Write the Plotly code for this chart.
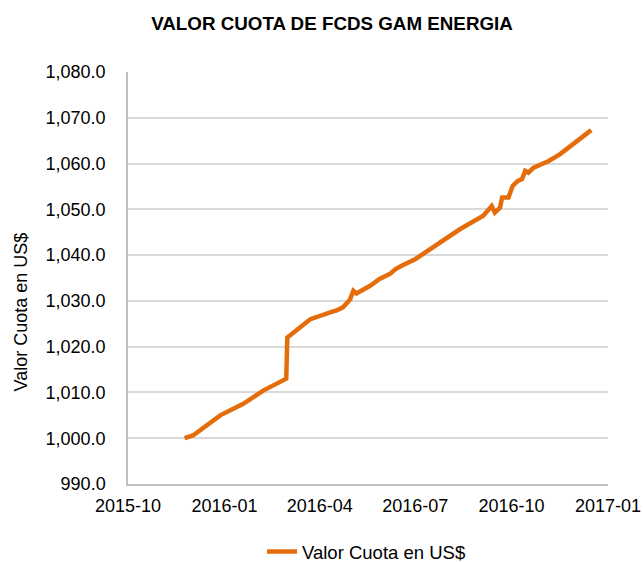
import plotly.graph_objects as go

dates = [
    "2015-11-24", "2015-12-02", "2015-12-28", "2016-01-19", "2016-02-07",
    "2016-02-29", "2016-03-01", "2016-03-05", "2016-03-10", "2016-03-13",
    "2016-03-19", "2016-03-23", "2016-04-01", "2016-04-11", "2016-04-17",
    "2016-04-23", "2016-04-28", "2016-04-30", "2016-05-03", "2016-05-06",
    "2016-05-19", "2016-05-28", "2016-06-07", "2016-06-12", "2016-06-19",
    "2016-07-01", "2016-08-13", "2016-08-25", "2016-09-04", "2016-09-12",
    "2016-09-15", "2016-09-20", "2016-09-22", "2016-09-28", "2016-10-02",
    "2016-10-07", "2016-10-11", "2016-10-14", "2016-10-17", "2016-10-22",
    "2016-11-01", "2016-11-05", "2016-11-16", "2016-12-05", "2016-12-16",
]
valor_cuota = [
    1000.0, 1000.6, 1005.0, 1007.5, 1010.4,
    1013.0, 1022.0, 1022.8, 1023.5, 1024.3,
    1025.3, 1026.0, 1026.8, 1027.5, 1027.9,
    1028.6, 1029.8, 1030.4, 1032.2, 1031.6,
    1033.3, 1034.8, 1035.9, 1036.9, 1037.8,
    1039.1, 1045.7, 1047.2, 1048.6, 1050.7,
    1049.3, 1050.4, 1052.6, 1052.6, 1055.1,
    1056.2, 1056.6, 1058.4, 1058.0, 1059.1,
    1060.2, 1060.5, 1062.0, 1065.3, 1067.3,
]

series_name = "Valor Cuota en US$"
title_text = "VALOR CUOTA DE FCDS GAM ENERGIA"
y_title = "Valor Cuota en US$"

FONT = "Liberation Sans, Arial, sans-serif"
ORANGE = "#E46C0A"
FS = 18

W, H = 643, 562
ML, MR, MT, MB = 128, 35, 72, 78

fig = go.Figure()
fig.add_trace(go.Scatter(
    x=dates, y=valor_cuota, mode="lines", name=series_name,
    line=dict(color=ORANGE, width=4.5),
))

plot_w = W - ML - MR
plot_h = H - MT - MB

fig.update_layout(
    width=W, height=H,
    margin=dict(l=ML, r=MR, t=MT, b=MB, autoexpand=False),
    paper_bgcolor="white", plot_bgcolor="white",
    font=dict(family=FONT, size=FS, color="#000000"),
    title=dict(text="<b>" + title_text + "</b>", x=332 / W, xanchor="center",
               y=1 - 23 / H, yanchor="middle", yref="container",
               font=dict(family=FONT, size=18.8, color="#000000")),
    showlegend=True,
    legend=dict(orientation="h", xref="container", yref="container",
                x=262 / W, xanchor="left", y=1 - 552 / H, yanchor="middle",
                font=dict(family=FONT, size=18.5, color="#000000"), bgcolor="rgba(0,0,0,0)"),
    xaxis=dict(
        type="date", range=["2015-10-01", "2017-01-01"], dtick="M3", tick0="2015-10-01",
        tickformat="%Y-%m", showgrid=False, showline=True, linecolor="#BFBFBF", linewidth=1.5,
        ticks="outside", ticklen=5, tickcolor="rgba(0,0,0,0)", zeroline=False,
        tickfont=dict(family=FONT, size=FS, color="#000000"), automargin=False,
    ),
    yaxis=dict(
        range=[990, 1080], dtick=10, tick0=990, tickformat=",.1f",
        showgrid=True, gridcolor="#D9D9D9", gridwidth=1.5,
        showline=True, linecolor="#BFBFBF", linewidth=1.5, zeroline=False,
        ticks="outside", ticklen=17, tickcolor="rgba(0,0,0,0)",
        tickfont=dict(family=FONT, size=FS, color="#000000"),
        automargin=False,
    ),
    annotations=[dict(
        text=y_title, textangle=-90, showarrow=False,
        xref="paper", yref="paper",
        x=(20 - ML) / plot_w, y=(H - MB - 312.5) / plot_h,
        xanchor="center", yanchor="middle",
        font=dict(family=FONT, size=FS, color="#000000"),
    )],
)

fig.write_html("out.html", config={"displayModeBar": False},
               post_script="document.body.style.margin='0';")
